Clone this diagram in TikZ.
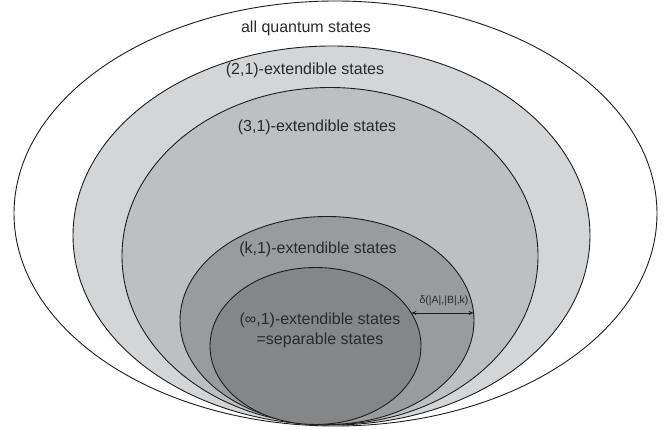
\documentclass[tikz,border=0pt]{standalone}
\usepackage{fontspec}
\setmainfont{Liberation Sans}
\usetikzlibrary{arrows.meta}
\definecolor{lineC}{HTML}{1E1E1E}
\definecolor{fillA}{HTML}{D4D5D7}
\definecolor{fillB}{HTML}{BEBFC1}
\definecolor{fillC}{HTML}{9A9B9D}
\definecolor{fillD}{HTML}{858688}
\definecolor{txt}{HTML}{2A2A2A}
\tikzset{
  setline/.style={draw=lineC, line width=0.9pt},
  lbl/.style={text=txt, font=\fontsize{16}{18}\selectfont, inner sep=0pt},
  small/.style={text=txt, font=\fontsize{10.5}{12}\selectfont, inner sep=0pt}
}
\begin{document}
\begin{tikzpicture}[x=1pt,y=-1pt]
\useasboundingbox (0,0) rectangle (667,430);
\fill[white] (0,0) rectangle (667,430);
\path[setline, fill=white] (335.5,213.5) ellipse [x radius=321.5, y radius=212.5];
\path[setline, fill=fillA] (331.5,235.5) ellipse [x radius=258.5, y radius=189.5];
\path[setline, fill=fillB] (330,256) ellipse [x radius=208, y radius=168.5];
\path[setline, fill=fillC] (327,320.5) ellipse [x radius=147, y radius=104];
\path[setline, fill=fillD] (315.5,346) ellipse [x radius=105.5, y radius=78.5];
\node[lbl] (all) at (306,28) {all quantum states};
\node[lbl] (two) at (305,70) {(2,1)-extendible states};
\node[lbl] (three) at (317,127) {(3,1)-extendible states};
\node[lbl] (k) at (318,249) {(k,1)-extendible states};
\node[lbl] (inf) at (320,320) {(∞,1)-extendible states};
\node[lbl] (sep) at (320,340) {=separable states};
\coordinate (a1) at (411.4,313);
\coordinate (a2) at (473.6,313);
\draw[lineC, line width=0.8pt, {Stealth[length=5pt,width=4pt]}-{Stealth[length=5pt,width=4pt]}] (a1) -- (a2);
\node[small] (delta) at (444,301) {δ(|A|,|B|,k)};
\end{tikzpicture}
\end{document}
